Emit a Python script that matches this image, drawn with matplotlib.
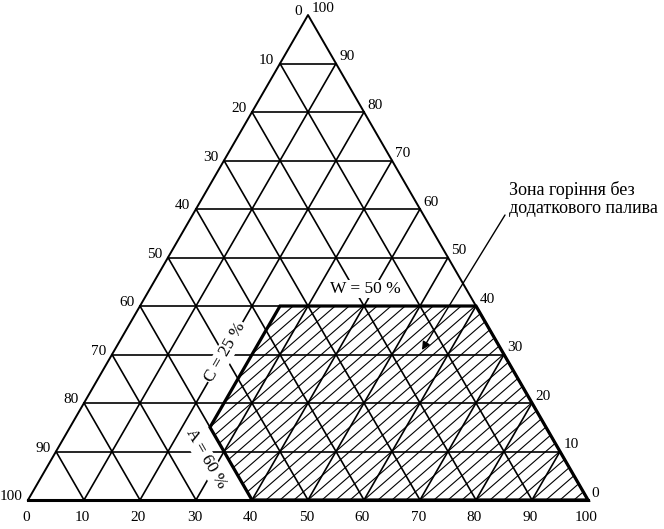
import numpy as np
import matplotlib
matplotlib.use("Agg")
import matplotlib.pyplot as plt
from matplotlib.patches import Polygon

plt.rcParams['font.family'] = ['Liberation Serif', 'DejaVu Serif']

# ---- data ----
ticks = [0, 10, 20, 30, 40, 50, 60, 70, 80, 90, 100]
bottom_labels = ['0', '10', '20', '30', '40', '50', '60', '70', '80', '90', '100']
left_labels = ['100', '90', '80', '70', '60', '50', '40', '30', '20', '10', '0']   # by height 0..100
right_labels = ['0', '10', '20', '30', '40', '50', '60', '70', '80', '90', '100']  # by height 0..100
# zone vertices as (bottom value, height value)
zone_b = [40, 100, 60, 25, 25]
zone_h = [0, 0, 40, 40, 15]
zone_title = "Зона горіння без\nдодаткового палива"
label_W = "W = 50 %"
label_C = "C = 25 %"
label_A = "A = 60 %"

S = np.sqrt(3) / 2


def cart(b, h):
    b = np.asarray(b, float)
    h = np.asarray(h, float)
    return b + h / 2, h * S


fig = plt.figure(figsize=(6.64, 5.29), dpi=100)
ax = fig.add_axes([0, 0, 1, 1])
ax.set_xlim(-5, 100 + 76 / 5.6)
ax.set_ylim(-29 / 5.6, 500 / 5.6)
ax.axis('off')

lw = 1.2
# grid lines
for t in ticks[1:-1]:
    x0, y0 = cart(0, t)
    x1, y1 = cart(100 - t, t)
    ax.plot([x0, x1], [y0, y1], color='black', lw=lw, zorder=2)
    x0, y0 = cart(t, 0)
    x1, y1 = cart(t, 100 - t)
    ax.plot([x0, x1], [y0, y1], color='black', lw=lw, zorder=2)
    x0, y0 = cart(t, 0)
    x1, y1 = cart(0, t)
    ax.plot([x0, x1], [y0, y1], color='black', lw=lw, zorder=2)

# triangle outline
tx, ty = cart([0, 100, 0, 0], [0, 0, 100, 0])
ax.plot(tx[1:], ty[1:], color='black', lw=1.4, zorder=3)
ax.plot(tx[:2], ty[:2], color='black', lw=2.2, zorder=3)

# zone with manual hatching (style only)
zx, zy = cart(zone_b, zone_h)
clip = Polygon(np.column_stack([zx, zy]), closed=True, facecolor='none',
               edgecolor='none', transform=ax.transData)
ax.add_patch(clip)
slope = np.tan(np.radians(41))
step = 2.5
for c in np.arange(-60, 110, step):
    xs = np.array([c, c + 60])
    ln, = ax.plot(xs, (xs - c) * slope, color='black', lw=0.8, zorder=1)
    ln.set_clip_path(clip)
ax.add_patch(Polygon(np.column_stack([zx, zy]), closed=True, facecolor='none',
                     edgecolor='black', lw=2.3, zorder=4))

fs = 11
for t, lab in zip(ticks, bottom_labels):
    x, y = cart(t, 0)
    ax.text(x - 0.3, y - 3.2, lab, ha='center', va='center', fontsize=fs)
for t, lab in zip(ticks, left_labels):
    x, y = cart(0, t)
    ax.text(x - 1.0, y + 0.6, lab, ha='right', va='center', fontsize=fs)
for t, lab in zip(ticks, right_labels):
    x, y = cart(100 - t, t)
    ax.text(x + 0.6, y + 1.2, lab, ha='left', va='center', fontsize=fs)

bb = dict(facecolor='white', edgecolor='none', pad=1.0)
xW, yW = cart(38.5, 43.5)
ax.text(xW, yW, label_W, ha='center', va='center', fontsize=12.5, bbox=bb, zorder=5)
xC, yC = cart(20, 30.5)
ax.text(xC, yC, label_C, ha='center', va='center', fontsize=12.5, rotation=60,
        bbox=bb, zorder=5, rotation_mode='anchor')
xA, yA = cart(27.5, 8.5)
ax.text(xA, yA, label_A, ha='center', va='center', fontsize=12.5, rotation=-60,
        bbox=bb, zorder=5, rotation_mode='anchor')

ax.annotate('', xy=((422 - 28) / 5.6, (500 - 350) / 5.6),
            xytext=((505 - 28) / 5.6, (500 - 215) / 5.6),
            arrowprops=dict(arrowstyle='-|>', color='black', lw=1.0,
                            mutation_scale=12, shrinkA=0, shrinkB=0), zorder=6)
ax.text((509 - 28) / 5.6, (500 - 181) / 5.6, zone_title, ha='left', va='top',
        fontsize=13, linespacing=1.1)

fig.savefig('out.png', dpi=100)
